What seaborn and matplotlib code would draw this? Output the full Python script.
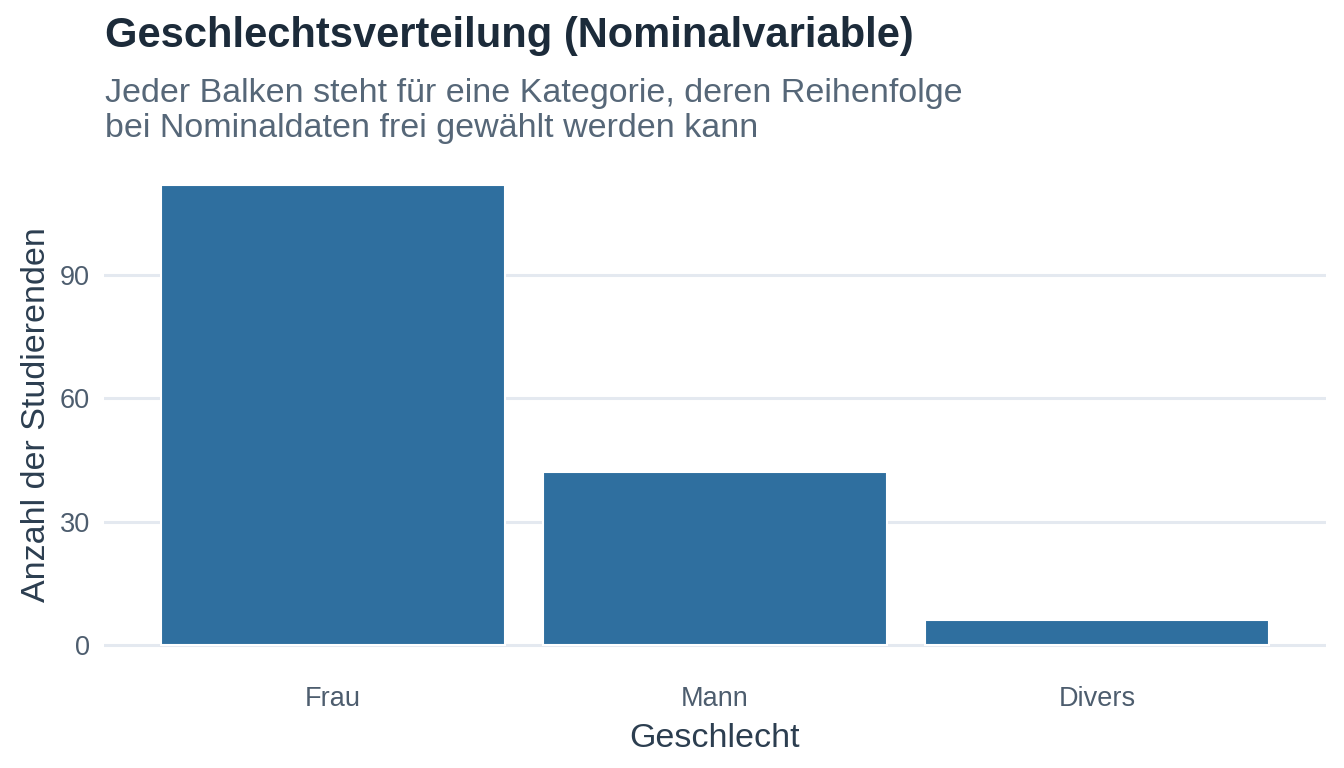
import matplotlib
matplotlib.use("Agg")
import matplotlib.pyplot as plt
import seaborn as sns
import pandas as pd

categories = ["Frau", "Mann", "Divers"]
counts = [112, 42, 6]
y_ticks = [0, 30, 60, 90]

sns.set_theme(style="white")
plt.rcParams['font.family'] = ['Liberation Sans', 'DejaVu Sans']

df = pd.DataFrame({"Geschlecht": categories, "Anzahl": counts})

fig = plt.figure(figsize=(13.44, 7.68), dpi=100)
ax = fig.add_axes([0.0774, 0.1302, 0.9092, 0.6595])

for t in y_ticks:
    ax.axhline(t, color="#e4e9f0", lw=2.2, zorder=0)

sns.barplot(data=df, x="Geschlecht", y="Anzahl", order=categories,
            color="#2f6f9f", saturation=1, width=0.9,
            edgecolor="white", linewidth=1.5, ax=ax, zorder=2)

ax.set_xlim(-0.6, 2.6)
ax.set_ylim(-5.6, 117.6)
ax.set_yticks(y_ticks)
ax.set_yticklabels([str(t) for t in y_ticks])
for s in ax.spines.values():
    s.set_visible(False)
ax.tick_params(axis="both", length=0, labelsize=19.5, labelcolor="#4d5d6e")
ax.tick_params(axis="x", pad=13)
ax.tick_params(axis="y", pad=10)
ax.set_xlabel("Geschlecht", fontsize=24.5, color="#2c3e50", labelpad=8)
ax.set_ylabel("Anzahl der Studierenden", fontsize=24.5, color="#2c3e50", labelpad=6)

fig.text(0.078, 0.953, "Geschlechtsverteilung (Nominalvariable)", fontsize=30,
         fontweight="bold", color="#1c2b3a", va="center", ha="left")
fig.text(0.078, 0.856, "Jeder Balken steht für eine Kategorie, deren Reihenfolge\nbei Nominaldaten frei gewählt werden kann",
         fontsize=24.5, color="#566778", va="center", ha="left", linespacing=1.17)

fig.savefig("out.png", dpi=100)
